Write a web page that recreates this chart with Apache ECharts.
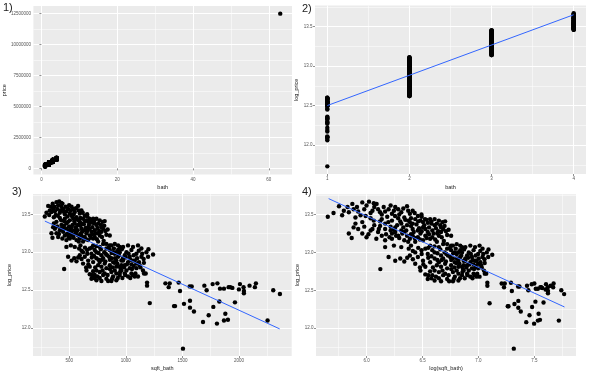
<!DOCTYPE html>
<html>
<head>
<meta charset="utf-8">
<script src="https://cdn.jsdelivr.net/npm/echarts@6/dist/echarts.min.js"></script>
<style>
html,body{margin:0;padding:0;background:#fff;}
#chart{width:591px;height:374px;}
</style>
</head>
<body>
<div id="chart"></div>
<script>
// ---- data: each house as [sqft_bath, log_price], grouped by number of bathrooms ----
const bath1 = [
[1188,12.60],[1188,12.56],[1212,12.33],[1350,12.59],[1379,12.54],[1388,12.59],[1426,12.29],[1435,12.29],
[1467,12.60],[1479,12.49],[1514,12.32],[1505,11.73],[1564,12.55],[1582,12.55],[1567,12.36],[1567,12.27],
[1602,12.22],[1682,12.08],[1694,12.56],[1714,12.50],[1732,12.17],[1767,12.58],[1773,12.28],[1809,12.59],
[1805,12.06],[1832,12.52],[1867,12.52],[1826,12.35],[1879,12.19],[1867,12.10],[1902,12.11],[1908,12.54],
[1923,12.54],[1941,12.53],[1964,12.34],[2008,12.58],[1999,12.51],[2040,12.54],[2043,12.49],[2043,12.46],
[2093,12.56],[2140,12.54],[2149,12.59],[2252,12.10],[2302,12.50],[2361,12.45]
];
const bath2 = [
[712,13.09],[588,13.05],[550,13.07],[515,13.09],[476,13.07],[491,12.94],[521,12.89],[565,12.88],[594,12.96],
[623,13.00],[659,13.03],[697,12.98],[726,13.03],[770,13.07],[800,13.11],[829,13.11],[873,13.09],[903,13.11],
[932,13.09],[976,13.07],[1020,13.09],[1064,13.07],[1108,13.09],[1138,13.05],[1182,13.00],[1197,12.94],
[1158,12.91],[1117,12.87],[1079,12.89],[1035,12.94],[991,12.96],[947,13.00],[903,12.98],[859,13.03],
[823,12.98],[785,12.96],[741,12.92],[712,12.87],[682,12.81],[653,12.76],[682,12.71],[697,12.65],[741,12.63],
[770,12.66],[800,12.70],[829,12.65],[873,12.62],[917,12.63],[947,12.70],[991,12.72],[1020,12.68],[1050,12.72],
[1079,12.68],[1108,12.68],[1035,12.79],[991,12.83],[947,12.81],[903,12.76],[859,12.83],[814,12.85],[785,12.81],
[741,12.76],[712,12.75],[961,12.89],[917,12.89],[873,12.92],[1050,12.84],[1094,12.79],[1123,12.83],[1152,12.76],
[1176,12.72],[456,12.78],[1241,12.97],[1161,12.72],[829,13.05],[888,13.00],[932,13.03],[852,12.94],[888,12.87],
[932,12.94],[976,12.89],[1006,13.00],[1050,13.03],[1094,12.98],[770,12.87],[800,12.92],[756,12.83],[829,12.79],
[873,12.74],[917,12.72],[961,12.76],[1006,12.76],[770,12.74],[814,12.72],[726,12.70],[888,12.68],[844,12.62],
[785,12.62],[638,12.94],[668,12.89],[623,12.85],[947,13.07],[859,13.09],[741,13.00],[682,13.05],[1064,12.89],
[1138,12.94],[1094,12.85],[1020,12.87],[917,12.81],[961,12.83],
[600,13.09],[640,13.06],[660,12.98],[700,13.06],[720,12.95],[740,13.08],[760,12.99],[780,13.04],[790,12.90],
[810,13.00],[820,12.88],[835,12.96],[850,13.06],[860,12.90],[875,12.99],[885,12.80],[895,13.05],[905,12.92],
[915,13.00],[925,12.85],[940,12.96],[955,12.78],[965,13.04],[975,12.92],[985,12.80],[1000,12.93],[1010,12.84],
[1025,12.98],[1040,12.90],[1055,12.78],[1070,12.96],[1085,12.72],[1100,12.92],[1115,13.02],[1130,12.80],
[1145,12.98],[1160,12.86],[1200,13.04],[730,12.80],[750,12.68],[760,12.90],[795,12.76],[840,12.70],[860,12.78],
[880,12.65],[900,12.86],[930,12.66],[950,12.74],[970,12.66],[995,12.70],[1040,12.66],[1060,12.70],[1070,12.82],
[700,12.93],[670,12.84],[650,12.80],[700,12.70],[720,12.66],[610,12.91],[580,12.93],[545,12.92],[610,13.02]
];
const bath3 = [
[712,13.44],[770,13.42],[814,13.41],[785,13.33],[741,13.36],[697,13.39],[653,13.42],[623,13.44],[594,13.40],
[550,13.38],[506,13.42],[462,13.44],[418,13.45],[388,13.40],[359,13.33],[344,13.25],[353,13.19],[403,13.20],
[447,13.27],[476,13.31],[506,13.25],[535,13.22],[565,13.27],[609,13.22],[638,13.29],[668,13.33],[697,13.27],
[726,13.20],[770,13.22],[829,13.23],[859,13.22],[756,13.14],[668,13.16],[623,13.14],[521,13.33],[579,13.36],
[609,13.31],[682,13.31],[726,13.29],[476,13.38],[432,13.36],[550,13.29],[653,13.25],[594,13.18],[506,13.18],
[462,13.22],[565,13.16],[712,13.18],[800,13.31],[756,13.38],[668,13.40],[535,13.45],[609,13.38],[638,13.20],
[682,13.22],[521,13.27],[418,13.29],[388,13.25],[741,13.44],[785,13.27],[579,13.22],[476,13.16],[374,13.31],
[430,13.42],[455,13.35],[490,13.40],[500,13.34],[515,13.30],[530,13.36],[545,13.41],[560,13.33],[575,13.29],
[585,13.42],[600,13.35],[615,13.27],[630,13.37],[645,13.32],[660,13.28],[675,13.36],[690,13.43],[705,13.33],
[720,13.38],[735,13.25],[750,13.32],[765,13.28],[780,13.36],[795,13.40],[810,13.35],[820,13.28],[480,13.24],
[495,13.20],[540,13.19],[555,13.25],[585,13.14],[600,13.24],[620,13.19],[650,13.17],[690,13.19],[705,13.24],
[745,13.17],[760,13.25],[790,13.20],[805,13.15],[840,13.30],[440,13.18],[410,13.24],[395,13.34],[365,13.38],
[425,13.31],[455,13.41],[570,13.43],[640,13.41],[720,13.41],[680,13.44],[600,13.45],[525,13.22],[500,13.29],
[450,13.31]
];
const bath4 = [
[285,13.47],[315,13.61],[359,13.57],[388,13.66],[412,13.67],[374,13.54],[344,13.53],[432,13.60],[447,13.57],
[476,13.54],[521,13.60],[579,13.61],[550,13.53],[565,13.46],[609,13.55],[659,13.50],[329,13.55],[403,13.62],
[462,13.50],[506,13.51],[418,13.52],[382,13.49],[491,13.57],[594,13.51],[638,13.48],[535,13.57],[324,13.49],
[441,13.64],[300,13.52],[340,13.60],[355,13.64],[370,13.60],[395,13.57],[425,13.55],[455,13.53],[470,13.60],
[500,13.62],[515,13.55],[540,13.50],[560,13.58],[585,13.55],[620,13.52],[660,13.47],[400,13.48],[365,13.46],
[485,13.47],[430,13.65],[520,13.48]
];
const bathCounts = [1, 2, 3, 4];
const outlierBath = 63;
const outlierPrice = 12500000;

// fitted lines
const fit2 = [[1, 12.50], [4, 13.65]];
const fit3 = [[286, 13.41], [2359, 11.99]];
const fit4 = [[5.66, 13.71], [7.77, 12.28]];

// tick values
const p1XTicks = [0, 20, 40, 60];
const p1XMinor = [10, 30, 50];
const p1YTicks = [0, 2500000, 5000000, 7500000, 10000000, 12500000];
const p1YMinor = [1250000, 3750000, 6250000, 8750000, 11250000];
const p2XTicks = [1, 2, 3, 4];
const p2XMinor = [1.5, 2.5, 3.5];
const lpTicks = [12.0, 12.5, 13.0, 13.5];
const lpMinor = [11.75, 12.25, 12.75, 13.25, 13.75];
const p3XTicks = [500, 1000, 1500, 2000];
const p3XMinor = [250, 750, 1250, 1750, 2250];
const p4XTicks = [6.0, 6.5, 7.0, 7.5];
const p4XMinor = [5.75, 6.25, 6.75, 7.25, 7.75];

// ---- derived series ----
const groups = [bath1, bath2, bath3, bath4];
const p1Pts = [], p2Pts = [], p3Pts = [], p4Pts = [];
groups.forEach((g, i) => {
  g.forEach(([s, lp]) => {
    p1Pts.push([bathCounts[i], Math.exp(lp)]);
    p2Pts.push([bathCounts[i], lp]);
    p3Pts.push([s, lp]);
    p4Pts.push([Math.log(s), lp]);
  });
});
p1Pts.push([outlierBath, outlierPrice]);

const FONT = 'Liberation Sans';
const int = v => String(v);
const one = v => Number(v).toFixed(1);

function axisPair(gi, min, max, majors, minors, fmt, name, nameGap) {
  const major = {
    type: 'value', gridIndex: gi, min: min, max: max,
    axisLine: {show: false},
    axisTick: {show: true, length: 2, customValues: majors, lineStyle: {color: '#444', width: 0.6}},
    axisLabel: {customValues: majors, formatter: fmt, fontSize: 4.5, color: '#555', margin: 2.5, fontFamily: FONT},
    splitLine: {show: true, lineStyle: {color: '#ffffff', width: 1}},
    name: name, nameLocation: 'middle', nameGap: nameGap,
    nameTextStyle: {fontSize: 5.5, color: '#222', fontFamily: FONT}
  };
  const minor = {
    type: 'value', gridIndex: gi, min: min, max: max,
    axisLine: {show: false},
    axisTick: {show: false, customValues: minors},
    axisLabel: {show: false},
    splitLine: {show: true, lineStyle: {color: '#ffffff', width: 0.5}}
  };
  return [major, minor];
}

const lpMin = 11.633, lpMax = 13.767;

const xAxis = [].concat(
  axisPair(0, -2.1, 66.1, p1XTicks, p1XMinor, int, 'bath', 9.5),
  axisPair(1, 0.85, 4.15, p2XTicks, p2XMinor, int, 'bath', 10),
  axisPair(2, 181, 2465, p3XTicks, p3XMinor, int, 'sqft_bath', 9.5),
  axisPair(3, 5.547, 7.873, p4XTicks, p4XMinor, one, 'log(sqft_bath)', 9.5)
);
const yAxis = [].concat(
  axisPair(0, -495000, 13120000, p1YTicks, p1YMinor, int, 'price', 23),
  axisPair(1, lpMin, lpMax, lpTicks, lpMinor, one, 'log_price', 13),
  axisPair(2, lpMin, lpMax, lpTicks, lpMinor, one, 'log_price', 21),
  axisPair(3, lpMin, lpMax, lpTicks, lpMinor, one, 'log_price', 12)
);

const gridStyle = {show: true, backgroundColor: '#EBEBEB', borderWidth: 0, containLabel: false};
const grid = [
  Object.assign({left: 33, top: 6, width: 259, height: 168.5}, gridStyle),
  Object.assign({left: 315, top: 5.5, width: 271, height: 168.5}, gridStyle),
  Object.assign({left: 33, top: 194, width: 258.7, height: 162}, gridStyle),
  Object.assign({left: 316, top: 194.3, width: 260, height: 161.7}, gridStyle)
];

function pts(data, gi) {
  return {type: 'scatter', data: data, xAxisIndex: gi * 2, yAxisIndex: gi * 2,
    symbolSize: 4.4, itemStyle: {color: '#000', opacity: 1}, silent: true, z: 3};
}
function fit(data, gi) {
  return {type: 'line', data: data, xAxisIndex: gi * 2, yAxisIndex: gi * 2,
    symbol: 'none', lineStyle: {color: '#3366FF', width: 1}, silent: true, z: 4};
}

const labelStyle = (t) => ({text: t, font: '11px "Liberation Sans"', fill: '#222'});

const option = {
  animation: false,
  backgroundColor: '#ffffff',
  grid: grid,
  xAxis: xAxis,
  yAxis: yAxis,
  series: [
    pts(p1Pts, 0),
    pts(p2Pts, 1), fit(fit2, 1),
    pts(p3Pts, 2), fit(fit3, 2),
    pts(p4Pts, 3), fit(fit4, 3)
  ],
  graphic: [
    {type: 'text', left: 3, top: 2, style: labelStyle('1)')},
    {type: 'text', left: 302, top: 3, style: labelStyle('2)')},
    {type: 'text', left: 12, top: 186, style: labelStyle('3)')},
    {type: 'text', left: 302, top: 186, style: labelStyle('4)')}
  ]
};

const chart = echarts.init(document.getElementById('chart'), null, {renderer: 'canvas'});
chart.setOption(option);
</script>
</body>
</html>
